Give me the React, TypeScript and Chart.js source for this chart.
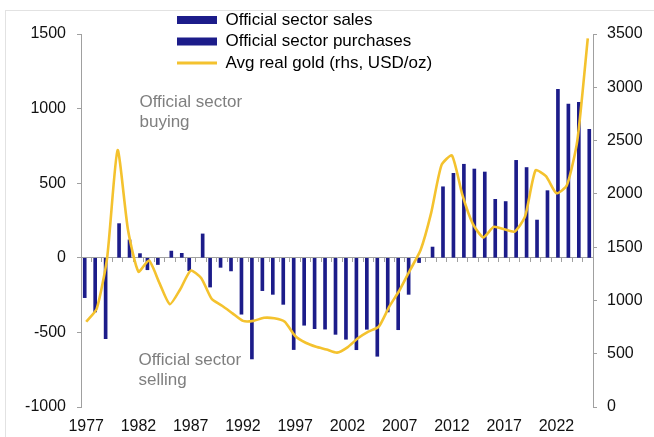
import React, { useEffect, useRef } from 'react';
import { Chart, registerables } from 'chart.js';

Chart.register(...registerables);

const years = [
  '1977', '1978', '1979', '1980', '1981', '1982', '1983', '1984', '1985', '1986',
  '1987', '1988', '1989', '1990', '1991', '1992', '1993', '1994', '1995', '1996',
  '1997', '1998', '1999', '2000', '2001', '2002', '2003', '2004', '2005', '2006',
  '2007', '2008', '2009', '2010', '2011', '2012', '2013', '2014', '2015', '2016',
  '2017', '2018', '2019', '2020', '2021', '2022', '2023', '2024', '2025',
];

const shownYears = ['1977', '1982', '1987', '1992', '1997', '2002', '2007', '2012', '2017', '2022'];

// Official sector sales (tonnes, negative)
const salesValues = [
  -267, -363, -542, null, null, null, -80, -45, null, null,
  -86, null, -196, -64, -88, -378, -678, -220, -245, -312,
  -615, -452, -475, -478, -513, -546, -616, -479, -660, -363,
  -482, -245, -32, null, null, null, null, null, null, null,
  null, null, null, null, null, null, null, null, null,
];

// Official sector purchases (tonnes, positive)
const purchaseValues = [
  null, null, null, 229, 120, 28, null, null, 45, 30,
  null, 160, null, null, null, null, null, null, null, null,
  null, null, null, null, null, null, null, null, null, null,
  null, null, null, 72, 476, 566, 627, 595, 575, 392,
  377, 653, 605, 253, 450, 1129, 1031, 1042, 861,
];

// Average real gold price (rhs, USD/oz)
const goldValues = [
  800, 920, 1400, 2410, 1660, 1270, 1375, 1165, 965, 1105,
  1280, 1210, 1015, 950, 879, 808, 808, 837, 832, 800,
  666, 603, 566, 540, 510, 560, 645, 707, 754, 941,
  1098, 1286, 1473, 1817, 2270, 2360, 1990, 1718, 1592, 1690,
  1668, 1646, 1788, 2220, 2166, 2006, 2080, 2500, 3460,
];

const legendLabels = ['Official sector sales', 'Official sector purchases', 'Avg real gold (rhs, USD/oz)'];
const buyingNote = ['Official sector', 'buying'];
const sellingNote = ['Official sector', 'selling'];

const NAVY = '#1c1c8a';
const GOLD = '#f4c22e';
const AXIS = '#a0a0a0';
const FONT = "'Liberation Sans', Arial, sans-serif";

export default function App() {
  const canvasRef = useRef<HTMLCanvasElement | null>(null);

  useEffect(() => {
    if (!canvasRef.current) return;
    Chart.defaults.font.family = FONT;
    Chart.defaults.font.size = 16;
    Chart.defaults.color = '#111111';

    const notesPlugin = {
      id: 'sectorNotes',
      afterLayout(chart: any) {
        const lg = chart.legend;
        if (lg) {
          lg.left = 172.5;
          lg.top = 7;
        }
      },
      afterDatasetsDraw(chart: any) {
        const { ctx, scales } = chart;
        ctx.save();
        ctx.font = `17px ${FONT}`;
        ctx.fillStyle = '#7f7f7f';
        ctx.textBaseline = 'middle';
        ctx.textAlign = 'left';
        const x = scales.x.getPixelForValue(5);
        ctx.fillText(buyingNote[0], x + 1, scales.y.getPixelForValue(1042));
        ctx.fillText(buyingNote[1], x + 1, scales.y.getPixelForValue(910));
        ctx.fillText(sellingNote[0], x, scales.y.getPixelForValue(-687));
        ctx.fillText(sellingNote[1], x, scales.y.getPixelForValue(-822));
        ctx.restore();
      },
    };

    const plain = (v: any) => String(v);

    const chart = new Chart(canvasRef.current, {
      type: 'bar',
      data: {
        labels: years,
        datasets: [
          {
            type: 'line',
            label: legendLabels[2],
            data: goldValues,
            yAxisID: 'y2',
            borderColor: GOLD,
            backgroundColor: GOLD,
            borderWidth: 2.6,
            pointRadius: 0,
            tension: 0.2,
            order: 0,
          } as any,
          {
            label: legendLabels[0],
            data: salesValues,
            yAxisID: 'y',
            backgroundColor: NAVY,
            barThickness: 3,
            order: 1,
          },
          {
            label: legendLabels[1],
            data: purchaseValues,
            yAxisID: 'y',
            backgroundColor: NAVY,
            barThickness: 3,
            order: 1,
          },
        ],
      },
      options: {
        responsive: false,
        animation: false,
        layout: { padding: { top: 34, left: 0, right: 0, bottom: 0 } },
        plugins: {
          tooltip: { enabled: false },
          legend: {
            position: 'chartArea',
            align: 'start',
            labels: {
              usePointStyle: true,
              pointStyleWidth: 40,
              boxHeight: 8,
              padding: 4.5,
              color: '#111111',
              font: { size: 17, family: FONT },
              generateLabels: () => [
                { text: legendLabels[0], fillStyle: NAVY, strokeStyle: NAVY, lineWidth: 0, pointStyle: 'rect', datasetIndex: 1, hidden: false },
                { text: legendLabels[1], fillStyle: NAVY, strokeStyle: NAVY, lineWidth: 0, pointStyle: 'rect', datasetIndex: 2, hidden: false },
                { text: legendLabels[2], fillStyle: GOLD, strokeStyle: GOLD, lineWidth: 3, pointStyle: 'line', datasetIndex: 0, hidden: false },
              ] as any,
            },
          },
        },
        scales: {
          x: {
            type: 'category',
            offset: true,
            grid: { display: false, offset: true },
            border: { display: false },
            ticks: {
              autoSkip: false,
              maxRotation: 0,
              padding: 2,
              color: '#111111',
              font: { size: 16 },
              callback: (_v: any, i: number) => (shownYears.includes(years[i]) ? years[i] : ''),
            },
            afterFit: (s: any) => { s.height = 30; },
          },
          x2: {
            type: 'category',
            position: { y: 0 } as any,
            offset: true,
            grid: { display: true, offset: true, drawOnChartArea: false, drawTicks: true, tickLength: 4, color: AXIS },
            border: { display: true, color: AXIS, width: 1 },
            ticks: { display: false },
            afterFit: (s: any) => { s.height = 0; },
          },
          y: {
            position: 'left',
            min: -1000,
            max: 1500,
            ticks: { stepSize: 500, padding: 11, color: '#111111', font: { size: 16 }, callback: plain },
            grid: { display: true, drawOnChartArea: false, drawTicks: true, tickLength: 4, color: AXIS },
            border: { display: true, color: AXIS, width: 1 },
            afterFit: (s: any) => { s.width = 81; },
          },
          y2: {
            position: 'right',
            min: 0,
            max: 3500,
            ticks: { stepSize: 500, padding: 10, color: '#111111', font: { size: 16 }, callback: plain },
            grid: { display: true, drawOnChartArea: false, drawTicks: true, tickLength: 4, color: AXIS },
            border: { display: true, color: AXIS, width: 1 },
            afterFit: (s: any) => { s.width = 61; },
          },
        },
      } as any,
      plugins: [notesPlugin],
    });

    return () => chart.destroy();
  }, []);

  return (
    <div style={{ position: 'absolute', left: 0, top: 0, width: 654, height: 437, background: '#ffffff' }}>
      <div style={{ position: 'absolute', left: 5, top: 10, width: 649, height: 427, borderTop: '1px solid #e2e2e2', borderLeft: '1px solid #e2e2e2' }} />
      <canvas ref={canvasRef} width={654} height={437} style={{ position: 'absolute', left: 0, top: 0 }} />
    </div>
  );
}
